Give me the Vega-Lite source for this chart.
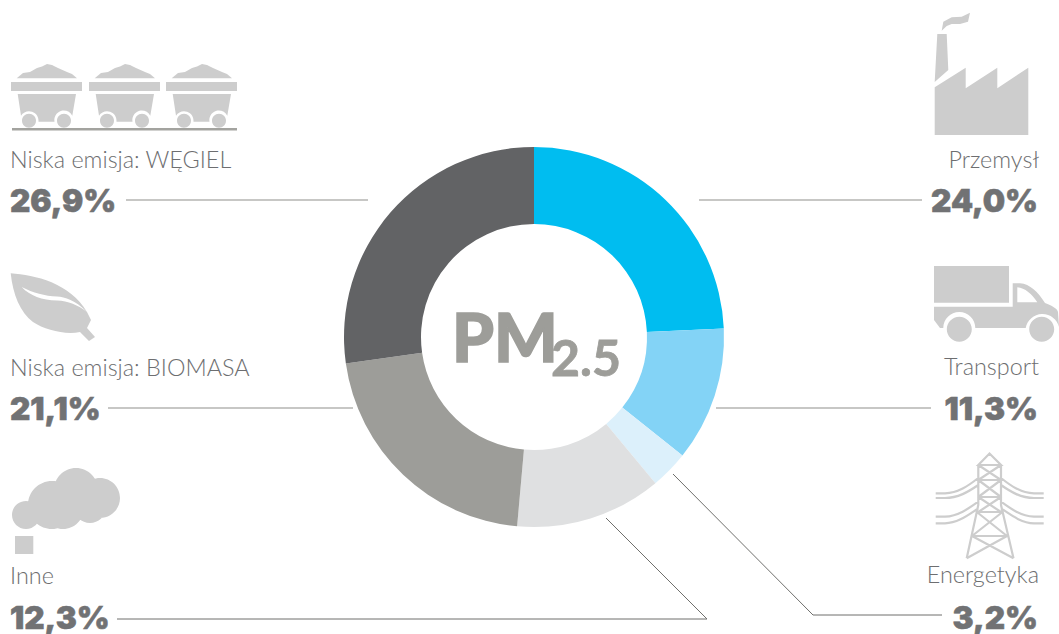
{"$schema":"https://vega.github.io/schema/vega-lite/v6.json","width":1059,"height":634,"padding":0,"autosize":{"type":"none"},"background":"white","config":{"view":{"stroke":null},"axis":{"disable":true},"legend":{"disable":true}},
"data":{"values":[
{"sector":"Przemysl","label":"Przemysł","pct":"24,0%","value":24.0,"order":1},
{"sector":"Transport","label":"Transport","pct":"11,3%","value":11.3,"order":2},
{"sector":"Energetyka","label":"Energetyka","pct":"3,2%","value":3.2,"order":3},
{"sector":"Inne","label":"Inne","pct":"12,3%","value":12.3,"order":4},
{"sector":"Biomasa","label":"Niska emisja: BIOMASA","pct":"21,1%","value":21.1,"order":5},
{"sector":"Wegiel","label":"Niska emisja: WĘGIEL","pct":"26,9%","value":26.9,"order":6}]},
"layer":[
{"mark":{"type":"arc","outerRadius":190,"innerRadius":113},"encoding":{"x":{"datum":534,"scale":{"domain":[0,1059]}},"y":{"datum":337,"scale":{"domain":[634,0]}},"theta":{"field":"value","type":"quantitative","stack":true},"order":{"field":"order","type":"quantitative"},"color":{"field":"sector","type":"nominal","scale":{"domain":["Przemysl","Transport","Energetyka","Inne","Biomasa","Wegiel"],"range":["#00BDF0","#83D3F6","#DCF0FB","#DFE0E1","#9D9D99","#626365"]}}}},

{"transform":[{"filter":"datum.sector=='Wegiel'"}],"mark":{"type":"rule","stroke":"#8f8f8b","strokeWidth":1.2},"encoding":{"x":{"datum":126,"scale":{"domain":[0,1059]}},"x2":{"datum":368},"y":{"datum":200,"scale":{"domain":[634,0]}},"y2":{"datum":200}}},
{"transform":[{"filter":"datum.sector=='Przemysl'"}],"mark":{"type":"rule","stroke":"#8f8f8b","strokeWidth":1.2},"encoding":{"x":{"datum":699,"scale":{"domain":[0,1059]}},"x2":{"datum":922},"y":{"datum":200,"scale":{"domain":[634,0]}},"y2":{"datum":200}}},
{"transform":[{"filter":"datum.sector=='Biomasa'"}],"mark":{"type":"rule","stroke":"#8f8f8b","strokeWidth":1.2},"encoding":{"x":{"datum":108,"scale":{"domain":[0,1059]}},"x2":{"datum":353},"y":{"datum":408,"scale":{"domain":[634,0]}},"y2":{"datum":408}}},
{"transform":[{"filter":"datum.sector=='Transport'"}],"mark":{"type":"rule","stroke":"#8f8f8b","strokeWidth":1.2},"encoding":{"x":{"datum":716,"scale":{"domain":[0,1059]}},"x2":{"datum":931},"y":{"datum":408,"scale":{"domain":[634,0]}},"y2":{"datum":408}}},
{"transform":[{"filter":"datum.sector=='Inne'"}],"mark":{"type":"rule","stroke":"#6f6f6c","strokeWidth":1},"encoding":{"x":{"datum":117,"scale":{"domain":[0,1059]}},"x2":{"datum":707},"y":{"datum":619,"scale":{"domain":[634,0]}},"y2":{"datum":619}}},
{"transform":[{"filter":"datum.sector=='Inne'"}],"mark":{"type":"rule","stroke":"#6f6f6c","strokeWidth":1},"encoding":{"x":{"datum":707,"scale":{"domain":[0,1059]}},"x2":{"datum":606},"y":{"datum":619,"scale":{"domain":[634,0]}},"y2":{"datum":518}}},
{"transform":[{"filter":"datum.sector=='Energetyka'"}],"mark":{"type":"rule","stroke":"#6f6f6c","strokeWidth":1},"encoding":{"x":{"datum":942,"scale":{"domain":[0,1059]}},"x2":{"datum":813},"y":{"datum":615,"scale":{"domain":[634,0]}},"y2":{"datum":615}}},
{"transform":[{"filter":"datum.sector=='Energetyka'"}],"mark":{"type":"rule","stroke":"#6f6f6c","strokeWidth":1},"encoding":{"x":{"datum":813,"scale":{"domain":[0,1059]}},"x2":{"datum":673},"y":{"datum":615,"scale":{"domain":[634,0]}},"y2":{"datum":474}}},
{"transform":[{"filter":"datum.sector=='Wegiel'"}],"mark":{"type":"rule","stroke":"#a3a39f","strokeWidth":2.4},"encoding":{"x":{"datum":12,"scale":{"domain":[0,1059]}},"x2":{"datum":237},"y":{"datum":129.3,"scale":{"domain":[634,0]}},"y2":{"datum":129.3}}},

{"transform":[{"filter":"datum.sector=='Wegiel'"}],"mark":{"type":"point","shape":"M16.7 78.3L23 73L30 72L37 68L42 66.5L47 64L52 65L58 68L67 72L72 74L77 78.3ZM11 82H82V91H11ZM17.7 94H76L72.3 115.7A9.5 9.5 0 0 0 54.5 121.7H38.5A9.5 9.5 0 0 0 21 115.7ZM22 120.7a7 7 0 1 0 14 0a7 7 0 1 0 -14 0ZM57 120.7a7 7 0 1 0 14 0a7 7 0 1 0 -14 0Z","filled":true,"fill":"#cdcdcd","stroke":null,"size":4,"opacity":1},"encoding":{"x":{"datum":0,"scale":{"domain":[0,1059]}},"y":{"datum":0,"scale":{"domain":[634,0]}}}},
{"transform":[{"filter":"datum.sector=='Wegiel'"}],"mark":{"type":"point","shape":"M16.7 78.3L23 73L30 72L37 68L42 66.5L47 64L52 65L58 68L67 72L72 74L77 78.3ZM11 82H82V91H11ZM17.7 94H76L72.3 115.7A9.5 9.5 0 0 0 54.5 121.7H38.5A9.5 9.5 0 0 0 21 115.7ZM22 120.7a7 7 0 1 0 14 0a7 7 0 1 0 -14 0ZM57 120.7a7 7 0 1 0 14 0a7 7 0 1 0 -14 0Z","filled":true,"fill":"#cdcdcd","stroke":null,"size":4,"opacity":1},"encoding":{"x":{"datum":78,"scale":{"domain":[0,1059]}},"y":{"datum":0,"scale":{"domain":[634,0]}}}},
{"transform":[{"filter":"datum.sector=='Wegiel'"}],"mark":{"type":"point","shape":"M16.7 78.3L23 73L30 72L37 68L42 66.5L47 64L52 65L58 68L67 72L72 74L77 78.3ZM11 82H82V91H11ZM17.7 94H76L72.3 115.7A9.5 9.5 0 0 0 54.5 121.7H38.5A9.5 9.5 0 0 0 21 115.7ZM22 120.7a7 7 0 1 0 14 0a7 7 0 1 0 -14 0ZM57 120.7a7 7 0 1 0 14 0a7 7 0 1 0 -14 0Z","filled":true,"fill":"#cdcdcd","stroke":null,"size":4,"opacity":1},"encoding":{"x":{"datum":155,"scale":{"domain":[0,1059]}},"y":{"datum":0,"scale":{"domain":[634,0]}}}},
{"transform":[{"filter":"datum.sector=='Biomasa'"}],"mark":{"type":"point","shape":"M10.7 273.3C35 275 70 283 87 312C75 300 65 297 57 296.5C45 296 33 293 21.7 287C30 296 42 300 57 300.5C68 301 78 305 87 312L91 320L87 328L95 337L89 341L80 332C65 335 45 330 33 322C20 312 13 295 10.7 273.3Z","filled":true,"fill":"#cdcdcd","stroke":null,"size":4,"opacity":1},"encoding":{"x":{"datum":0,"scale":{"domain":[0,1059]}},"y":{"datum":0,"scale":{"domain":[634,0]}}}},
{"transform":[{"filter":"datum.sector=='Inne'"}],"mark":{"type":"point","shape":"M12 515a14 14 0 1 0 28 0a14 14 0 1 0 -28 0ZM80 498a20 20 0 1 0 40 0a20 20 0 1 0 -40 0ZM54 490a22 22 0 1 0 44 0a22 22 0 1 0 -44 0ZM28 505a24 24 0 1 0 48 0a24 24 0 1 0 -48 0ZM42 508a21 21 0 1 0 42 0a21 21 0 1 0 -42 0ZM74 507a16 16 0 1 0 32 0a16 16 0 1 0 -32 0ZM15 536H33.3V554H15Z","filled":true,"fill":"#cdcdcd","stroke":null,"size":4,"opacity":1},"encoding":{"x":{"datum":0,"scale":{"domain":[0,1059]}},"y":{"datum":0,"scale":{"domain":[634,0]}}}},
{"transform":[{"filter":"datum.sector=='Przemysl'"}],"mark":{"type":"point","shape":"M934.7 82L937.3 34H946.7L948.3 70ZM934.7 87.3L965.7 67.7V88.3L997.3 67.7V88.3L1028.3 67.7V135H934.7ZM941.7 30.7L943.3 21.7L951.7 17.3L961.7 16.7L970 12.7L968 21.7L960 24L951.7 24L946.7 26Z","filled":true,"fill":"#cdcdcd","stroke":null,"size":4,"opacity":1},"encoding":{"x":{"datum":0,"scale":{"domain":[0,1059]}},"y":{"datum":0,"scale":{"domain":[634,0]}}}},
{"transform":[{"filter":"datum.sector=='Transport'"}],"mark":{"type":"point","shape":"M934 266H1009V302.7H934ZM934 306.7H1012.7V283.3H1020C1030 284 1038 292 1045 303C1052 306 1057 308 1058 312L1059 327A17 17 0 0 0 1025.7 328H975.3A16 16 0 0 0 943.3 328H940L934 320ZM1017.3 287.3V302.3H1037.3C1032 294 1025 288 1017.3 287.3ZM946.8 329.3a12.5 12.5 0 1 0 25 0a12.5 12.5 0 1 0 -25 0ZM1029.2 329.3a12.5 12.5 0 1 0 25 0a12.5 12.5 0 1 0 -25 0Z","filled":true,"fill":"#cdcdcd","stroke":null,"size":4,"opacity":1},"encoding":{"x":{"datum":0,"scale":{"domain":[0,1059]}},"y":{"datum":0,"scale":{"domain":[634,0]}}}},
{"transform":[{"filter":"datum.sector=='Energetyka'"}],"mark":{"type":"point","shape":"M978.3 465L989.5 453.5L1001 465ZM978.3 465V505L966.7 558.3M1001 465V505L1013.5 558.3M978.3 480H1001M978.3 497H1001M976.8 512H1002.5M972 536H1007M978.3 465L1001 480M1001 465L978.3 480M978.3 480L1001 497M1001 480L978.3 497M978.3 497L1001 512M1001 497L978.3 512M976.8 512L1007 536M1002.5 512L972 536M972 536L1013.5 558.3M1007 536L966.7 558.3M935.7 493.3H945C958 493 968 486 978.3 478M935.7 498H945C958 498 968 492 978.3 485M935.7 516.7H945C958 516 968 509 978.3 501.7M935.7 523.3H945C958 523 968 515 978.3 508.3M1043.7 493.3H1034C1021 493 1011 486 1001 478M1043.7 498H1034C1021 498 1011 492 1001 485M1043.7 516.7H1034C1021 516 1011 509 1001 501.7M1043.7 523.3H1034C1021 523 1011 515 1001 508.3","filled":false,"stroke":"#cdcdcd","strokeWidth":2.2,"size":4,"opacity":1},"encoding":{"x":{"datum":0,"scale":{"domain":[0,1059]}},"y":{"datum":0,"scale":{"domain":[634,0]}}}},

{"transform":[{"filter":"datum.sector=='Wegiel'"}],"mark":{"type":"text","font":"Lato","fontWeight":300,"fontSize":23.4,"fill":"#6d6e70","align":"left","baseline":"alphabetic"},"encoding":{"x":{"datum":10,"scale":{"domain":[0,1059]}},"y":{"datum":168,"scale":{"domain":[634,0]}},"text":{"field":"label"}}},
{"transform":[{"filter":"datum.sector=='Biomasa'"}],"mark":{"type":"text","font":"Lato","fontWeight":300,"fontSize":23.4,"fill":"#6d6e70","align":"left","baseline":"alphabetic"},"encoding":{"x":{"datum":10,"scale":{"domain":[0,1059]}},"y":{"datum":376,"scale":{"domain":[634,0]}},"text":{"field":"label"}}},
{"transform":[{"filter":"datum.sector=='Inne'"}],"mark":{"type":"text","font":"Lato","fontWeight":300,"fontSize":23.4,"fill":"#6d6e70","align":"left","baseline":"alphabetic"},"encoding":{"x":{"datum":10,"scale":{"domain":[0,1059]}},"y":{"datum":584,"scale":{"domain":[634,0]}},"text":{"field":"label"}}},
{"transform":[{"filter":"datum.sector=='Przemysl'"}],"mark":{"type":"text","font":"Lato","fontWeight":300,"fontSize":23.4,"fill":"#6d6e70","align":"right","baseline":"alphabetic"},"encoding":{"x":{"datum":1039,"scale":{"domain":[0,1059]}},"y":{"datum":168,"scale":{"domain":[634,0]}},"text":{"field":"label"}}},
{"transform":[{"filter":"datum.sector=='Transport'"}],"mark":{"type":"text","font":"Lato","fontWeight":300,"fontSize":23.4,"fill":"#6d6e70","align":"right","baseline":"alphabetic"},"encoding":{"x":{"datum":1039,"scale":{"domain":[0,1059]}},"y":{"datum":375,"scale":{"domain":[634,0]}},"text":{"field":"label"}}},
{"transform":[{"filter":"datum.sector=='Energetyka'"}],"mark":{"type":"text","font":"Lato","fontWeight":300,"fontSize":23.4,"fill":"#6d6e70","align":"right","baseline":"alphabetic"},"encoding":{"x":{"datum":1039,"scale":{"domain":[0,1059]}},"y":{"datum":583,"scale":{"domain":[634,0]}},"text":{"field":"label"}}},

{"transform":[{"filter":"datum.sector=='Wegiel'"}],"mark":{"type":"text","font":"Inter","fontWeight":900,"fontSize":31.5,"fill":"#717274","stroke":"#717274","strokeWidth":0.6,"align":"left","baseline":"alphabetic"},"encoding":{"x":{"datum":10,"scale":{"domain":[0,1059]}},"y":{"datum":212,"scale":{"domain":[634,0]}},"text":{"field":"pct"}}},
{"transform":[{"filter":"datum.sector=='Biomasa'"}],"mark":{"type":"text","font":"Inter","fontWeight":900,"fontSize":31.5,"fill":"#717274","stroke":"#717274","strokeWidth":0.6,"align":"left","baseline":"alphabetic"},"encoding":{"x":{"datum":10,"scale":{"domain":[0,1059]}},"y":{"datum":420,"scale":{"domain":[634,0]}},"text":{"field":"pct"}}},
{"transform":[{"filter":"datum.sector=='Inne'"}],"mark":{"type":"text","font":"Inter","fontWeight":900,"fontSize":31.5,"fill":"#717274","stroke":"#717274","strokeWidth":0.6,"align":"left","baseline":"alphabetic"},"encoding":{"x":{"datum":10,"scale":{"domain":[0,1059]}},"y":{"datum":629,"scale":{"domain":[634,0]}},"text":{"field":"pct"}}},
{"transform":[{"filter":"datum.sector=='Przemysl'"}],"mark":{"type":"text","font":"Inter","fontWeight":900,"fontSize":31.5,"fill":"#717274","stroke":"#717274","strokeWidth":0.6,"align":"right","baseline":"alphabetic"},"encoding":{"x":{"datum":1038,"scale":{"domain":[0,1059]}},"y":{"datum":212,"scale":{"domain":[634,0]}},"text":{"field":"pct"}}},
{"transform":[{"filter":"datum.sector=='Transport'"}],"mark":{"type":"text","font":"Inter","fontWeight":900,"fontSize":31.5,"fill":"#717274","stroke":"#717274","strokeWidth":0.6,"align":"right","baseline":"alphabetic"},"encoding":{"x":{"datum":1038,"scale":{"domain":[0,1059]}},"y":{"datum":420,"scale":{"domain":[634,0]}},"text":{"field":"pct"}}},
{"transform":[{"filter":"datum.sector=='Energetyka'"}],"mark":{"type":"text","font":"Inter","fontWeight":900,"fontSize":31.5,"fill":"#717274","stroke":"#717274","strokeWidth":0.6,"align":"right","baseline":"alphabetic"},"encoding":{"x":{"datum":1038,"scale":{"domain":[0,1059]}},"y":{"datum":629,"scale":{"domain":[634,0]}},"text":{"field":"pct"}}},

{"data":{"values":[{"t":"PM"}]},"mark":{"type":"text","font":"Lato","fontWeight":900,"fontSize":67,"fill":"#9d9d99","stroke":"#9d9d99","strokeWidth":1.6,"align":"left","baseline":"alphabetic"},"encoding":{"x":{"datum":452,"scale":{"domain":[0,1059]}},"y":{"datum":362,"scale":{"domain":[634,0]}},"text":{"field":"t"}}},
{"data":{"values":[{"t":"2.5"}]},"mark":{"type":"text","font":"Lato","fontWeight":700,"fontSize":50,"fill":"#9d9d99","stroke":"#9d9d99","strokeWidth":0.8,"align":"left","baseline":"alphabetic"},"encoding":{"x":{"datum":551,"scale":{"domain":[0,1059]}},"y":{"datum":376,"scale":{"domain":[634,0]}},"text":{"field":"t"}}}
]}
